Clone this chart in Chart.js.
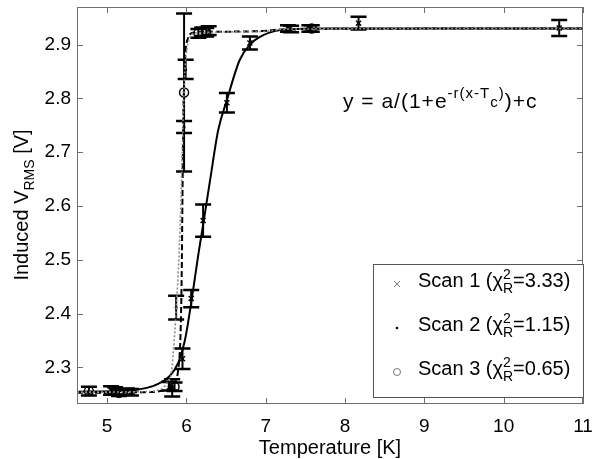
<!DOCTYPE html>
<html>
<head>
<meta charset="utf-8">
<script src="https://cdn.jsdelivr.net/npm/chart.js@4/dist/chart.umd.min.js"></script>
<style>
  html, body { margin: 0; padding: 0; background: #fff; }
</style>
</head>
<body>
<canvas id="fitChart" width="592" height="459"></canvas>
<script>
const xTicks = [5, 6, 7, 8, 9, 10, 11];
const yTicks = [2.3, 2.4, 2.5, 2.6, 2.7, 2.8, 2.9];

// measured points (temperature, voltage, error)
const scan1T = [5.05, 5.30, 5.82, 5.95, 6.06, 6.21, 6.51, 6.80, 7.28, 7.55, 8.17, 10.70];
const scan1V = [2.257, 2.254, 2.262, 2.316, 2.428, 2.573, 2.792, 2.903, 2.930, 2.930, 2.940, 2.931];
const scan1Err = [0.008, 0.006, 0.016, 0.019, 0.016, 0.030, 0.018, 0.012, 0.006, 0.006, 0.012, 0.015];

const scan2T = [5.10, 5.25, 5.78, 5.87, 5.97, 5.99, 6.20, 6.28, 7.32];
const scan2V = [2.256, 2.255, 2.265, 2.411, 2.747, 2.854, 2.924, 2.926, 2.929];
const scan2Err = [0.007, 0.006, 0.008, 0.022, 0.011, 0.018, 0.008, 0.008, 0.006];

const scan3T = [4.77, 5.15, 5.85, 5.97, 6.15, 6.25, 7.58];
const scan3V = [2.256, 2.253, 2.264, 2.811, 2.921, 2.923, 2.930];
const scan3Err = [0.008, 0.006, 0.008, 0.147, 0.008, 0.008, 0.006];

// fitted curves
const fit1T = [4.62, 5.2, 5.5, 5.65, 5.79, 5.9, 5.98, 6.06, 6.15, 6.21, 6.3, 6.4, 6.51, 6.67, 6.8, 6.92, 7.18, 7.6, 11];
const fit1V = [2.255, 2.256, 2.262, 2.27, 2.284, 2.31, 2.35, 2.42, 2.51, 2.565, 2.65, 2.741, 2.797, 2.871, 2.90, 2.914, 2.927, 2.93, 2.93];

const fit2T = [4.62, 5.5, 5.7, 5.8, 5.86, 5.9, 5.925, 5.94, 5.95, 5.96, 5.975, 5.99, 6.02, 6.08, 6.3, 6.9, 7.3, 11];
const fit2V = [2.253, 2.254, 2.257, 2.263, 2.275, 2.30, 2.36, 2.47, 2.62, 2.76, 2.85, 2.89, 2.912, 2.922, 2.924, 2.925, 2.929, 2.93];

const fit3T = [4.62, 5.5, 5.65, 5.72, 5.77, 5.81, 5.85, 5.89, 5.92, 5.94, 5.96, 5.98, 6.01, 6.05, 6.12, 6.9, 7.3, 11];
const fit3V = [2.254, 2.255, 2.258, 2.264, 2.275, 2.29, 2.36, 2.46, 2.56, 2.66, 2.77, 2.85, 2.895, 2.915, 2.922, 2.924, 2.929, 2.93];

const legendNames = ["Scan 1", "Scan 2", "Scan 3"];
const chiValues = ["3.33", "1.15", "0.65"];

const FONT = '"Liberation Sans", Arial, Helvetica, sans-serif';

function pts(xs, ys) {
  return xs.map((x, i) => ({ x: x, y: ys[i] }));
}

const errorSets = [
  { t: scan1T, v: scan1V, e: scan1Err },
  { t: scan2T, v: scan2V, e: scan2Err },
  { t: scan3T, v: scan3V, e: scan3Err }
];

const errorBars = {
  id: 'errorBars',
  beforeDatasetsDraw(chart) {
    const c = chart.ctx, xs = chart.scales.x, ys = chart.scales.y;
    c.save();
    c.strokeStyle = '#000';
    errorSets.forEach(s => {
      s.t.forEach((t, i) => {
        const px = xs.getPixelForValue(t);
        const top = ys.getPixelForValue(s.v[i] + s.e[i]);
        const bot = ys.getPixelForValue(s.v[i] - s.e[i]);
        c.lineWidth = 2;
        c.beginPath();
        c.moveTo(px, top); c.lineTo(px, bot);
        c.stroke();
        c.lineWidth = 2.5;
        c.beginPath();
        c.moveTo(px - 8, top); c.lineTo(px + 8, top);
        c.moveTo(px - 8, bot); c.lineTo(px + 8, bot);
        c.stroke();
      });
    });
    c.restore();
  }
};

function drawSupSub(c, x, y, sup, sub, size) {
  c.save();
  c.font = size + 'px ' + FONT;
  c.textAlign = 'left';
  c.fillText(sup, x, y - 8);
  c.fillText(sub, x, y + 6);
  const w = Math.max(c.measureText(sup).width, c.measureText(sub).width);
  c.restore();
  return w;
}

const decorations = {
  id: 'decorations',
  afterDraw(chart) {
    const c = chart.ctx, a = chart.chartArea;
    const xs = chart.scales.x, ys = chart.scales.y;
    c.save();
    // box and inward ticks
    c.strokeStyle = '#6e6e6e';
    c.lineWidth = 1;
    c.strokeRect(a.left + 0.5, a.top + 0.5, a.right - a.left - 1, a.bottom - a.top - 1);
    c.beginPath();
    xTicks.forEach(v => {
      const px = Math.round(xs.getPixelForValue(v)) + 0.5;
      c.moveTo(px, a.bottom); c.lineTo(px, a.bottom - 6);
      c.moveTo(px, a.top); c.lineTo(px, a.top + 6);
    });
    yTicks.forEach(v => {
      const py = Math.round(ys.getPixelForValue(v)) + 0.5;
      c.moveTo(a.left, py); c.lineTo(a.left + 6, py);
      c.moveTo(a.right, py); c.lineTo(a.right - 6, py);
    });
    c.stroke();

    c.fillStyle = '#000';
    c.textBaseline = 'alphabetic';

    // x title
    c.font = '20px ' + FONT;
    c.textAlign = 'center';
    c.fillText('Temperature [K]', (a.left + a.right) / 2, 454);

    // y title with subscript
    c.save();
    c.translate(28, 205);
    c.rotate(-Math.PI / 2);
    c.font = '14px ' + FONT;
    const wSub = c.measureText('RMS').width;
    c.font = '20px ' + FONT;
    const p1 = 'Induced V', p3 = ' [V]';
    const w1 = c.measureText(p1).width, w3 = c.measureText(p3).width;
    const sx = -(w1 + wSub + w3) / 2;
    c.textAlign = 'left';
    c.fillText(p1, sx, 0);
    c.font = '14px ' + FONT;
    c.fillText('RMS', sx + w1, 6);
    c.font = '20px ' + FONT;
    c.fillText(p3, sx + w1 + wSub, 0);
    c.restore();

    // equation
    c.save();
    c.textAlign = 'left';
    c.letterSpacing = '1px';
    let ex = 343;
    const ey = 108;
    c.font = '21px ' + FONT;
    c.fillText('y = a/(1+e', ex, ey);
    ex += c.measureText('y = a/(1+e').width;
    c.font = '15px ' + FONT;
    c.fillText('-r(x-T', ex, ey - 10);
    ex += c.measureText('-r(x-T').width;
    c.fillText('c', ex, ey - 1);
    ex += c.measureText('c').width;
    c.fillText(')', ex, ey - 10);
    ex += c.measureText(')').width;
    c.font = '21px ' + FONT;
    c.fillText(')+c', ex, ey);
    c.restore();

    // legend
    c.textAlign = 'left';
    const lx = 373, ly = 264, lw = 210, lh = 133;
    c.fillStyle = '#fff';
    c.fillRect(lx, ly, lw, lh);
    c.strokeStyle = '#555';
    c.lineWidth = 1;
    c.strokeRect(lx + 0.5, ly + 0.5, lw, lh);
    const rows = [287, 331, 375];
    rows.forEach((ry, i) => {
      const mx = 397, my = ry - 3;
      c.strokeStyle = '#777';
      c.fillStyle = '#000';
      c.lineWidth = 1;
      if (i === 0) {
        c.beginPath();
        c.moveTo(mx - 3, my - 3); c.lineTo(mx + 3, my + 3);
        c.moveTo(mx - 3, my + 3); c.lineTo(mx + 3, my - 3);
        c.stroke();
      } else if (i === 1) {
        c.beginPath();
        c.arc(mx, my, 1.3, 0, Math.PI * 2);
        c.fill();
      } else {
        c.beginPath();
        c.arc(mx, my, 3.5, 0, Math.PI * 2);
        c.stroke();
      }
      c.fillStyle = '#000';
      c.font = '20px ' + FONT;
      const head = legendNames[i] + ' (\u03c7';
      let tx = 418;
      c.fillText(head, tx, ry);
      tx += c.measureText(head).width;
      tx += drawSupSub(c, tx, ry, '2', 'R', 14);
      c.font = '20px ' + FONT;
      c.fillText('=' + chiValues[i] + ')', tx, ry);
    });
    c.restore();
  }
};

const ctx = document.getElementById('fitChart');

new Chart(ctx, {
  type: 'scatter',
  data: {
    datasets: [
      {
        label: 'fit 3',
        data: pts(fit3T, fit3V),
        showLine: true,
        borderColor: '#8c8c8c',
        borderWidth: 1.6,
        borderDash: [2, 2],
        pointRadius: 0,
        cubicInterpolationMode: 'monotone'
      },
      {
        label: 'fit 2',
        data: pts(fit2T, fit2V),
        showLine: true,
        borderColor: '#000',
        borderWidth: 2,
        borderDash: [6, 3],
        pointRadius: 0,
        cubicInterpolationMode: 'monotone'
      },
      {
        label: 'fit 1',
        data: pts(fit1T, fit1V),
        showLine: true,
        borderColor: '#000',
        borderWidth: 2,
        pointRadius: 0,
        cubicInterpolationMode: 'monotone'
      },
      {
        label: 'Scan 1',
        data: pts(scan1T, scan1V),
        pointStyle: 'crossRot',
        pointRadius: 3.5,
        borderColor: '#000',
        borderWidth: 1.5
      },
      {
        label: 'Scan 2',
        data: pts(scan2T, scan2V),
        pointStyle: 'circle',
        pointRadius: 1.5,
        backgroundColor: '#000',
        borderColor: '#000',
        borderWidth: 0
      },
      {
        label: 'Scan 3',
        data: pts(scan3T, scan3V),
        pointStyle: 'circle',
        pointRadius: 4.5,
        backgroundColor: 'rgba(0,0,0,0)',
        borderColor: '#000',
        borderWidth: 1.5
      }
    ]
  },
  options: {
    responsive: false,
    animation: false,
    devicePixelRatio: 1,
    layout: { padding: { left: 0, right: 9, top: 7, bottom: 0 } },
    plugins: {
      legend: { display: false },
      tooltip: { enabled: false }
    },
    scales: {
      x: {
        type: 'linear',
        min: 4.62,
        max: 11,
        afterBuildTicks: s => { s.ticks = xTicks.map(v => ({ value: v })); },
        afterFit: s => { s.height = 55; s.paddingLeft = 0; s.paddingRight = 0; },
        grid: { display: false, drawTicks: false },
        border: { display: false },
        ticks: {
          color: '#000',
          font: { family: FONT, size: 19 },
          padding: 11,
          maxRotation: 0,
          autoSkip: false,
          callback: v => String(v)
        }
      },
      y: {
        type: 'linear',
        min: 2.232,
        max: 2.97,
        afterBuildTicks: s => { s.ticks = yTicks.map(v => ({ value: v })); },
        afterFit: s => { s.width = 77; s.paddingTop = 0; s.paddingBottom = 0; },
        grid: { display: false, drawTicks: false },
        border: { display: false },
        ticks: {
          color: '#000',
          font: { family: FONT, size: 19 },
          padding: 6,
          autoSkip: false,
          callback: v => v.toFixed(1)
        }
      }
    }
  },
  plugins: [errorBars, decorations]
});
</script>
</body>
</html>
